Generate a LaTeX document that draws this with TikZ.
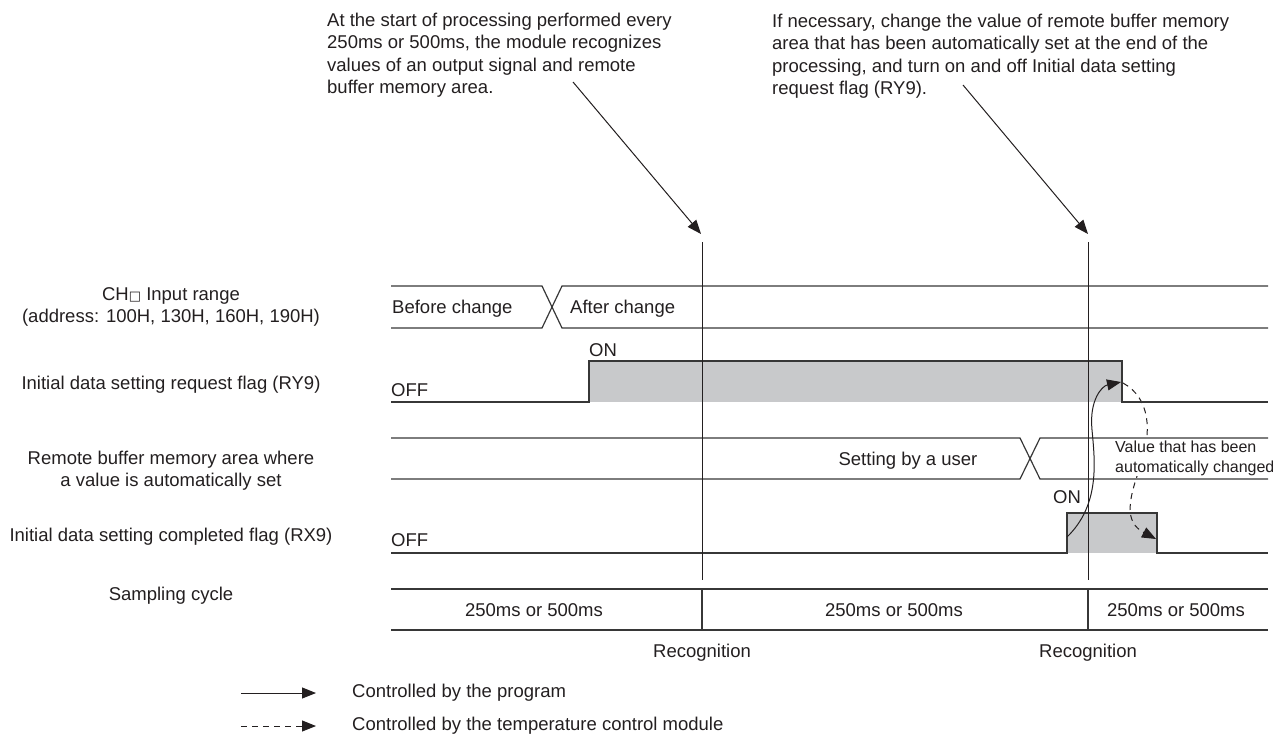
\documentclass[tikz,border=0pt]{standalone}
\usepackage{fontspec}
\setmainfont{Liberation Sans}
\usetikzlibrary{arrows.meta}
\definecolor{ink}{RGB}{35,31,32}
\definecolor{wire}{RGB}{55,55,55}
\definecolor{grayfill}{RGB}{200,201,203}
\tikzset{
  txt/.style={inner sep=0pt, text=ink, font=\fontsize{18.5}{22.3}\selectfont},
  small/.style={inner sep=0pt, text=ink, font=\fontsize{16}{19.3}\selectfont},
  sig/.style={draw=wire, line width=1.2pt, line join=miter},
  vline/.style={draw=ink, line width=1pt},
  ptr/.style={draw=ink, line width=1pt, -{Triangle[length=14pt,width=11pt]}},
  dptr/.style={draw=ink, line width=1pt, dash pattern=on 6pt off 5pt, -{Triangle[length=14pt,width=11pt]}},
}
\begin{document}
\begin{tikzpicture}[x=1pt,y=-1pt]
\useasboundingbox (0,0) rectangle (1273,737);

% annotations
\node[txt, anchor=north west, align=left] (noteA) at (327,13)
 {At the start of processing performed every\\250ms or 500ms, the module recognizes\\values of an output signal and remote\\buffer memory area.};
\node[txt, anchor=north west, align=left] (noteB) at (772,14)
 {If necessary, change the value of remote buffer memory\\area that has been automatically set at the end of the\\processing, and turn on and off Initial data setting\\request flag (RY9).};
\coordinate (a1s) at (573,82);
\coordinate (a1e) at (701,234);
\coordinate (a2s) at (963,85);
\coordinate (a2e) at (1088,234);
\draw[ptr] (a1s) -- (a1e);
\draw[ptr] (a2s) -- (a2e);

% left labels
\node[txt, align=center] (l1) at (171,307) {CH\fontspec{DejaVu Sans}\fontsize{13}{13}\selectfont□\fontspec{Liberation Sans}\fontsize{18.5}{22.3}\selectfont{} Input range\\(address: 100H, 130H, 160H, 190H)};
\node[txt] (l2) at (171,385) {Initial data setting request flag (RY9)};
\node[txt, align=center] (l3) at (171,471) {Remote buffer memory area where\\a value is automatically set};
\node[txt] (l4) at (171,537) {Initial data setting completed flag (RX9)};
\node[txt] (l5) at (171,596) {Sampling cycle};

% gray fills
\fill[grayfill] (589,361) rectangle (1122,402);
\fill[grayfill] (1067,513) rectangle (1157,553);

% dashed feedback arrow (behind the text box)
\coordinate (d0) at (1123,383);
\coordinate (d1) at (1141,465);
\coordinate (d2) at (1156,539);
\draw[dptr] (d0) .. controls (1150,398) and (1152,430) .. (d1) .. controls (1128,500) and (1124,522) .. (d2);
\node[small, anchor=north west, align=left, fill=white, inner sep=1pt] (val) at (1114,440) {Value that has been\\automatically changed};

% row 1: input range
\draw[sig] (391,286) -- (542,286) -- (562,328) -- (1268,328);
\draw[sig] (391,328) -- (542,328) -- (562,286) -- (1268,286);
\node[txt, anchor=west] (bc) at (392,309) {Before change};
\node[txt, anchor=west] (ac) at (570,309) {After change};

% row 2: RY9
\draw[sig] (391,402) -- (589,402) -- (589,361) -- (1122,361) -- (1122,402) -- (1268,402);
\node[txt, anchor=west] (on1) at (589,350) {ON};
\node[txt, anchor=west] (off1) at (391,390) {OFF};

% row 3: remote buffer
\draw[sig] (391,438) -- (1020,438) -- (1040,479) -- (1268,479);
\draw[sig] (391,479) -- (1020,479) -- (1040,438) -- (1268,438);
\node[txt] (sbu) at (908,461) {Setting by a user};

% row 4: RX9
\draw[sig] (391,553) -- (1067,553) -- (1067,513) -- (1157,513) -- (1157,553) -- (1268,553);
\node[txt, anchor=west] (on2) at (1053,497) {ON};
\node[txt, anchor=west] (off2) at (391,540) {OFF};

% row 5: sampling cycle
\draw[sig] (391,589) -- (1268,589);
\draw[sig] (391,630) -- (1268,630);
\draw[sig] (702,589) -- (702,630);
\draw[sig] (1088,589) -- (1088,630);
\node[txt] (s1) at (534,610) {250ms or 500ms};
\node[txt] (s2) at (894,610) {250ms or 500ms};
\node[txt] (s3) at (1176,610) {250ms or 500ms};

% recognition lines
\coordinate (v1t) at (702,242);
\coordinate (v1b) at (702,580);
\coordinate (v2t) at (1088,242);
\coordinate (v2b) at (1088,580);
\draw[vline] (v1t) -- (v1b);
\draw[vline] (v2t) -- (v2b);
\node[txt] (r1) at (702,653) {Recognition};
\node[txt] (r2) at (1088,653) {Recognition};

% solid program arrow
\coordinate (c0) at (1067,537);
\coordinate (c1) at (1092,430);
\coordinate (c2) at (1121,382);
\draw[ptr] (c0) .. controls (1100,505) and (1095,462) .. (c1) .. controls (1089,400) and (1102,386) .. (c2);

% legend
\coordinate (g1s) at (241,693);
\coordinate (g1e) at (316,693);
\coordinate (g2s) at (241,726);
\coordinate (g2e) at (316,726);
\draw[ptr] (g1s) -- (g1e);
\draw[dptr] (g2s) -- (g2e);
\node[txt, anchor=west] (lg1) at (352,693) {Controlled by the program};
\node[txt, anchor=west] (lg2) at (352,726) {Controlled by the temperature control module};
\end{tikzpicture}
\end{document}
